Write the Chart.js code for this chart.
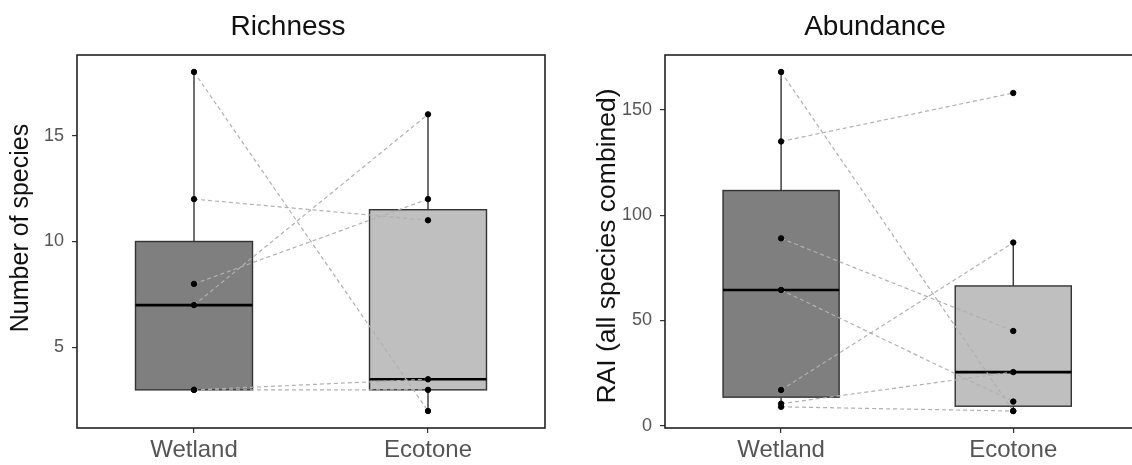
<!DOCTYPE html>
<html>
<head>
<meta charset="utf-8">
<script src="https://cdn.jsdelivr.net/npm/chart.js@4.4.1/dist/chart.umd.min.js"></script>
<style>
  html, body { margin: 0; padding: 0; background: #fff; overflow: hidden; }
  #wrap { position: relative; width: 1132px; height: 465px; overflow: hidden; }
  canvas { position: absolute; top: 0; }
  #richness { left: 0; }
  #abundance { left: 575px; }
</style>
</head>
<body>
<div id="wrap">
  <canvas id="richness" width="575" height="465"></canvas>
  <canvas id="abundance" width="600" height="465"></canvas>
</div>
<script>
const groups = ['Wetland', 'Ecotone'];

// Richness - paired sites (wetland value -> ecotone value)
const richWetland = [18, 12, 8, 7, 3, 3];
const richEcotone = [2, 11, 12, 16, 3.5, 3];
const richQ1 = [3, 3];
const richMedian = [7, 3.5];
const richQ3 = [10, 11.5];
const richLow = [3, 2];
const richHigh = [18, 16];
const richTicks = [5, 10, 15];

// Abundance (RAI, all species combined)
const abunWetland = [168, 135, 89, 64.5, 17, 10.5, 9];
const abunEcotone = [7, 158, 45, 11.5, 87, 25.5, 7];
const abunQ1 = [13.6, 9.3];
const abunMedian = [64.5, 25.5];
const abunQ3 = [111.7, 66.4];
const abunLow = [9, 7];
const abunHigh = [168, 87];
const abunTicks = [0, 50, 100, 150];

const FONT = "'Liberation Sans', Arial, Helvetica, sans-serif";
const boxFills = ['#7f7f7f', '#bfbfbf'];

// boxes + whiskers, drawn under the paired lines and points
const boxPlugin = {
  id: 'boxes',
  beforeDatasetsDraw(chart, args, opts) {
    const { ctx, scales: { x, y } } = chart;
    ctx.save();
    opts.q1.forEach((q1, i) => {
      const cx = x.getPixelForValue(i + 1);
      const left = x.getPixelForValue(i + 1 - 0.25);
      const right = x.getPixelForValue(i + 1 + 0.25);
      const top = y.getPixelForValue(opts.q3[i]);
      const bottom = y.getPixelForValue(q1);
      ctx.strokeStyle = '#333';
      ctx.lineWidth = 1.4;
      ctx.beginPath();
      ctx.moveTo(cx, y.getPixelForValue(opts.high[i]));
      ctx.lineTo(cx, top);
      ctx.moveTo(cx, bottom);
      ctx.lineTo(cx, y.getPixelForValue(opts.low[i]));
      ctx.stroke();
      ctx.fillStyle = boxFills[i];
      ctx.fillRect(left, top, right - left, bottom - top);
      ctx.strokeRect(left, top, right - left, bottom - top);
      const my = y.getPixelForValue(opts.median[i]);
      ctx.strokeStyle = '#000';
      ctx.lineWidth = 2.6;
      ctx.beginPath();
      ctx.moveTo(left, my);
      ctx.lineTo(right, my);
      ctx.stroke();
    });
    ctx.restore();
  }
};

// panel border, panel title and rotated y axis title
const framePlugin = {
  id: 'frame',
  afterDraw(chart, args, opts) {
    const { ctx, chartArea: a } = chart;
    ctx.save();
    ctx.strokeStyle = '#222';
    ctx.lineWidth = 1.6;
    ctx.strokeRect(a.left, a.top, a.right - a.left, a.bottom - a.top);

    ctx.fillStyle = '#111';
    ctx.textAlign = 'center';
    ctx.textBaseline = 'alphabetic';
    ctx.font = '28px ' + FONT;
    ctx.fillText(opts.heading, opts.headingX, 35);

    ctx.translate(opts.titleX, opts.titleY);
    ctx.rotate(-Math.PI / 2);
    ctx.font = opts.titleSize + 'px ' + FONT;
    ctx.textBaseline = 'middle';
    ctx.fillText(opts.title, 0, 0);
    ctx.restore();
  }
};

function makePanel(canvas, cfg) {
  const pairs = cfg.wet.map((w, i) => ({
    type: 'line',
    data: [{ x: 1, y: w }, { x: 2, y: cfg.eco[i] }],
    borderColor: '#b0b0b0',
    borderWidth: 1.2,
    borderDash: [4, 3],
    pointRadius: 0,
    order: 2
  }));
  const points = {
    type: 'scatter',
    data: cfg.wet.map(v => ({ x: 1, y: v })).concat(cfg.eco.map(v => ({ x: 2, y: v }))),
    backgroundColor: '#000',
    borderColor: '#000',
    pointRadius: 2.7,
    order: 1
  };

  return new Chart(canvas, {
    type: 'scatter',
    data: { datasets: [points, ...pairs] },
    plugins: [boxPlugin, framePlugin],
    options: {
      responsive: false,
      animation: false,
      layout: { padding: { left: 0, right: cfg.padRight, top: 55, bottom: 0 } },
      plugins: {
        legend: { display: false },
        tooltip: { enabled: false },
        title: { display: false },
        boxes: cfg.box,
        frame: {
          heading: cfg.title, headingX: cfg.titleX,
          title: cfg.yTitle, titleX: cfg.yTitleX, titleY: cfg.yTitleY, titleSize: cfg.yTitleSize
        }
      },
      scales: {
        x: {
          type: 'linear',
          min: 0.5,
          max: cfg.xMax,
          afterBuildTicks: s => { s.ticks = groups.map((g, i) => ({ value: i + 1 })); },
          afterFit: s => { s.height = 37; },
          ticks: {
            callback: (v, i) => groups[i],
            color: '#555',
            font: { family: FONT, size: 24 },
            padding: 3,
            maxRotation: 0,
            autoSkip: false
          },
          grid: { drawOnChartArea: false, drawTicks: true, tickLength: 5, color: '#333', lineWidth: 1.2 },
          border: { display: false }
        },
        y: {
          type: 'linear',
          min: cfg.yMin,
          max: cfg.yMax,
          afterBuildTicks: s => { s.ticks = cfg.ticks.map(v => ({ value: v })); },
          afterFit: s => { s.width = cfg.yWidth; },
          ticks: { color: '#555', font: { family: FONT, size: 18 }, padding: 8 },
          grid: { drawOnChartArea: false, drawTicks: true, tickLength: 5, color: '#333', lineWidth: 1.2 },
          border: { display: false }
        }
      }
    }
  });
}

makePanel(document.getElementById('richness'), {
  title: 'Richness',
  titleX: 288,
  wet: richWetland,
  eco: richEcotone,
  box: { q1: richQ1, median: richMedian, q3: richQ3, low: richLow, high: richHigh },
  ticks: richTicks,
  yMin: 1.2,
  yMax: 18.8,
  xMax: 2.5,
  yWidth: 77,
  padRight: 30,
  yTitle: 'Number of species',
  yTitleX: 21,
  yTitleY: 228,
  yTitleSize: 25
});

makePanel(document.getElementById('abundance'), {
  title: 'Abundance',
  titleX: 300,
  wet: abunWetland,
  eco: abunEcotone,
  box: { q1: abunQ1, median: abunMedian, q3: abunQ3, low: abunLow, high: abunHigh },
  ticks: abunTicks,
  yMin: -1.05,
  yMax: 176.05,
  xMax: 2.52,
  yWidth: 90,
  padRight: 41,
  yTitle: 'RAI (all species combined)',
  yTitleX: 33,
  yTitleY: 246,
  yTitleSize: 26.5
});
</script>
</body>
</html>
